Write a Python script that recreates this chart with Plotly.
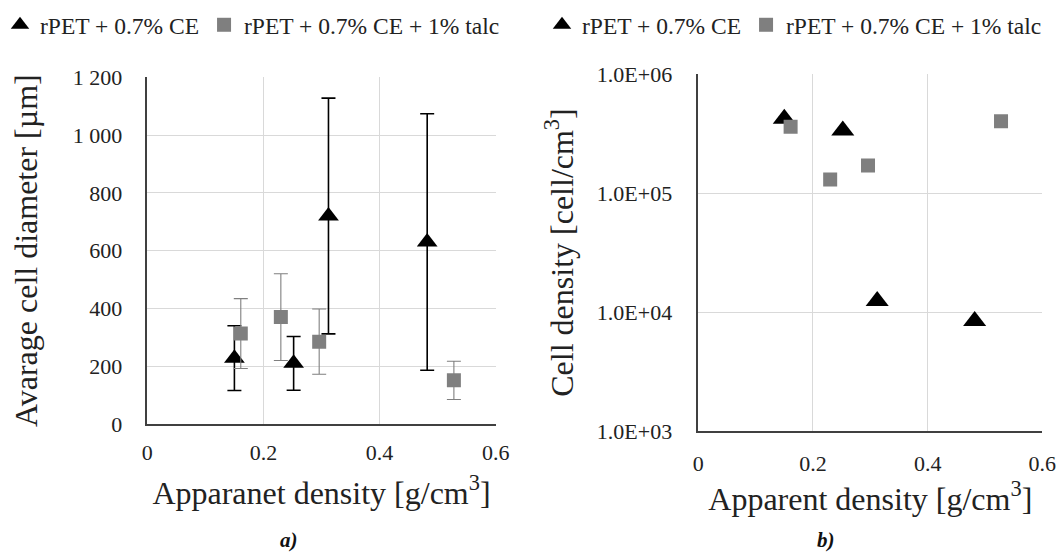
import plotly.graph_objects as go

# ---- data ----
series_names = ["rPET + 0.7% CE", "rPET + 0.7% CE + 1% talc"]

# a) average cell diameter vs apparent density
tri_density = [0.150, 0.252, 0.312, 0.482]
tri_diameter = [228, 210, 720, 630]
tri_diameter_err = [112, 93, 408, 444]

sq_density = [0.161, 0.230, 0.296, 0.528]
sq_diameter = [313, 370, 285, 151]
sq_diameter_err = [121, 150, 113, 66]

# b) cell density vs apparent density
tri_cell_density = [4.2e5, 3.35e5, 1.24e4, 8.4e3]
sq_cell_density = [3.6e5, 1.3e5, 1.7e5, 4.0e5]

x_ticks = [0, 0.2, 0.4, 0.6]
x_ticktext = ["0", "0.2", "0.4", "0.6"]
ya_ticks = [0, 200, 400, 600, 800, 1000, 1200]
ya_ticktext = ["0", "200", "400", "600", "800", "1 000", "1 200"]
yb_ticks = [1e3, 1e4, 1e5, 1e6]
yb_ticktext = ["1.0E+03", "1.0E+04", "1.0E+05", "1.0E+06"]

FONT = "Liberation Serif"
BLACK = "#000000"
GRAY = "#7f7f7f"
GRID = "#d9d9d9"
AXIS = "#404040"
TXT = "#222222"

# page body has an 8px default margin; size the figure to fit the window
OFF = 8
W, H = 1064 - OFF, 553 - OFF


def px(x):
    return (x - OFF) / W


def py(y):
    return 1 - (y - OFF) / H


fig = go.Figure()

# panel a
fig.add_trace(go.Scatter(
    x=tri_density, y=tri_diameter, mode="markers", name=series_names[0],
    marker=dict(symbol="triangle-up", size=18, color=BLACK),
    error_y=dict(type="data", array=tri_diameter_err, visible=True,
                 color=BLACK, thickness=1.6, width=7),
    xaxis="x", yaxis="y", legend="legend"))
fig.add_trace(go.Scatter(
    x=sq_density, y=sq_diameter, mode="markers", name=series_names[1],
    marker=dict(symbol="square", size=14, color=GRAY),
    error_y=dict(type="data", array=sq_diameter_err, visible=True,
                 color=GRAY, thickness=1.1, width=7),
    xaxis="x", yaxis="y", legend="legend"))

# panel b
fig.add_trace(go.Scatter(
    x=tri_density, y=tri_cell_density, mode="markers", name=series_names[0],
    marker=dict(symbol="triangle-up", size=20, color=BLACK),
    xaxis="x2", yaxis="y2", legend="legend2"))
fig.add_trace(go.Scatter(
    x=sq_density, y=sq_cell_density, mode="markers", name=series_names[1],
    marker=dict(symbol="square", size=14, color=GRAY),
    xaxis="x2", yaxis="y2", legend="legend2"))

axis_common = dict(showline=True, linecolor=AXIS, linewidth=1.5,
                   showgrid=True, gridcolor=GRID, gridwidth=1,
                   zeroline=False, ticks="", automargin=False,
                   tickfont=dict(family=FONT, size=22, color=TXT))

title_font = dict(family=FONT, size=32, color=TXT)
legend_font = dict(family=FONT, size=23.5, color=TXT)

fig.update_layout(
    width=W, height=H,
    margin=dict(l=0, r=0, t=0, b=0, autoexpand=False),
    paper_bgcolor="white", plot_bgcolor="white",
    font=dict(family=FONT, color=TXT),
    xaxis=dict(domain=[px(147.3), px(495.7)], range=[0, 0.6], tickvals=x_ticks,
               ticktext=x_ticktext, anchor="y", ticklabelstandoff=8,
               title=dict(text="Apparanet density [g/cm<sup>3</sup>]",
                          font=title_font, standoff=17),
               **axis_common),
    yaxis=dict(domain=[py(424), py(77.3)], range=[0, 1200], tickvals=ya_ticks,
               ticktext=ya_ticktext, anchor="x", ticklabelstandoff=19,
               title=dict(text="Avarage cell diameter [µm]",
                          font=title_font, standoff=30),
               **axis_common),
    xaxis2=dict(domain=[px(698.3), px(1042.3)], range=[0, 0.6], tickvals=x_ticks,
                ticktext=x_ticktext, anchor="y2", ticklabelstandoff=12,
                title=dict(text="Apparent density [g/cm<sup>3</sup>]",
                           font=title_font, standoff=6),
                **axis_common),
    yaxis2=dict(domain=[py(431), py(74)], type="log", range=[3, 6],
                tickvals=yb_ticks, ticktext=yb_ticktext, anchor="x2",
                ticklabelstandoff=20,
                title=dict(text="Cell density [cell/cm<sup>3</sup>]",
                           font=title_font, standoff=14),
                **axis_common),
    legend=dict(orientation="h", x=px(0), xanchor="left", y=py(25),
                yanchor="middle", font=legend_font,
                bgcolor="rgba(0,0,0,0)", itemwidth=30),
    legend2=dict(orientation="h", x=px(542), xanchor="left", y=py(25),
                 yanchor="middle", font=legend_font,
                 bgcolor="rgba(0,0,0,0)", itemwidth=30),
    annotations=[
        dict(text="<b><i>a)</i></b>", x=px(289), y=py(540), xref="paper",
             yref="paper", showarrow=False, xanchor="center", yanchor="middle",
             font=dict(family=FONT, size=21, color="#111111")),
        dict(text="<b><i>b)</i></b>", x=px(826), y=py(540), xref="paper",
             yref="paper", showarrow=False, xanchor="center", yanchor="middle",
             font=dict(family=FONT, size=21, color="#111111")),
    ],
)

fig.write_html("out.html")
